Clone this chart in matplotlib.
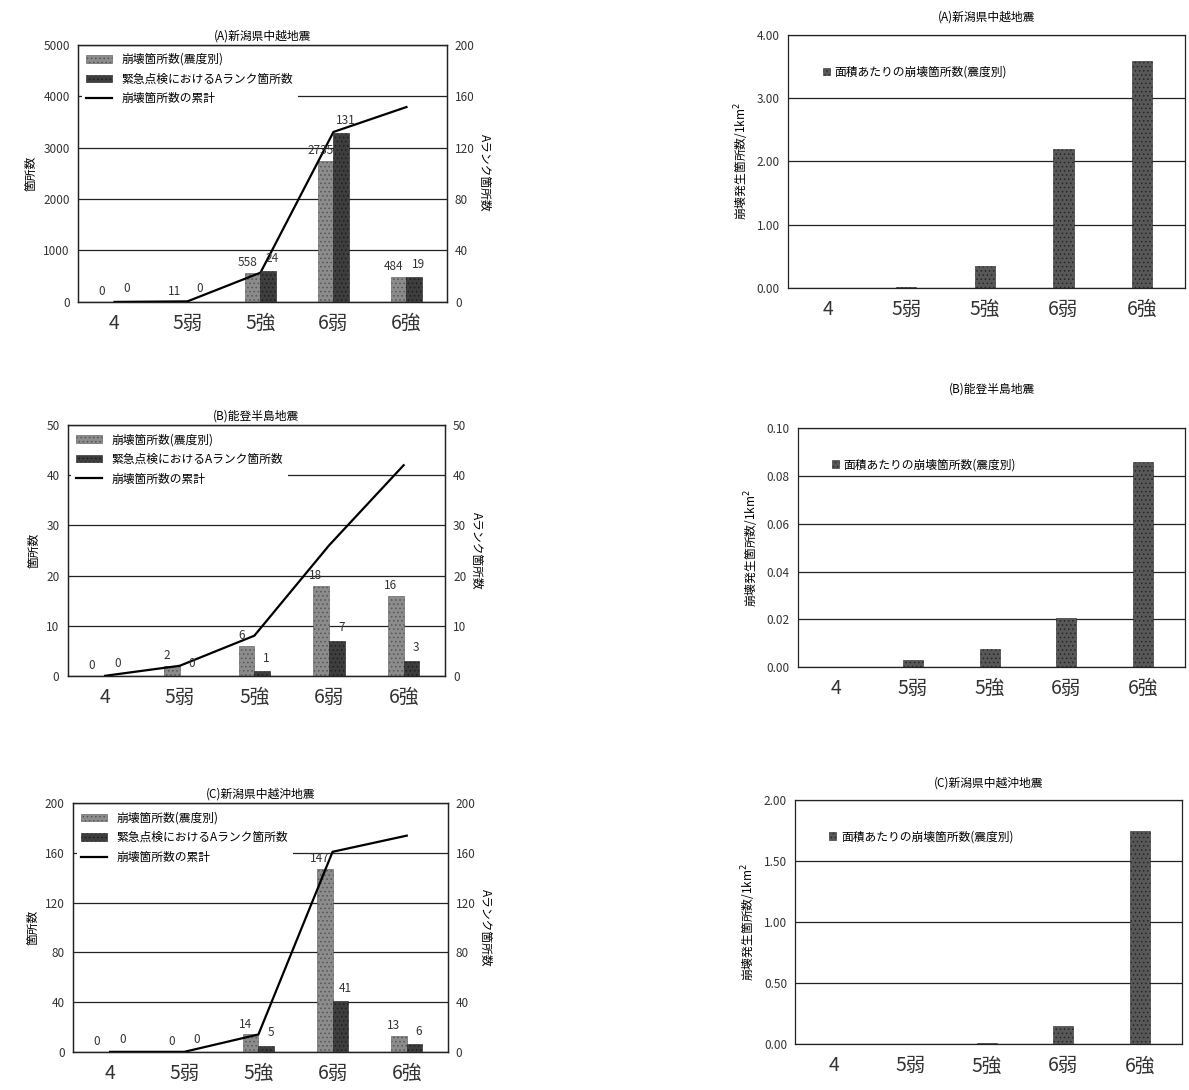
import matplotlib
matplotlib.use("Agg")
import matplotlib.pyplot as plt
import matplotlib.patches as mpatches
from matplotlib.lines import Line2D
import numpy as np

plt.rcParams['font.family'] = ['Noto Sans CJK JP', 'DejaVu Sans']
plt.rcParams['hatch.linewidth'] = 0.6

categories = ['4', '5弱', '5強', '6弱', '6強']

# (A) 新潟県中越地震
a_collapse = [0, 11, 558, 2735, 484]
a_rank = [0, 0, 24, 131, 19]
a_cum = [0, 11, 569, 3304, 3788]
a_density = [0, 0.01, 0.34, 2.19, 3.59]

# (B) 能登半島地震
b_collapse = [0, 2, 6, 18, 16]
b_rank = [0, 0, 1, 7, 3]
b_cum = [0, 2, 8, 26, 42]
b_density = [0, 0.003, 0.0077, 0.0205, 0.086]

# (C) 新潟県中越沖地震
c_collapse = [0, 0, 14, 147, 13]
c_rank = [0, 0, 5, 41, 6]
c_cum = [0, 0, 14, 161, 174]
c_density = [0, 0, 0.01, 0.15, 1.75]

titles = ['(A)新潟県中越地震', '(B)能登半島地震', '(C)新潟県中越沖地震']

LIGHT = '#8c8c8c'
DARK = '#3e3e3e'

fig = plt.figure(figsize=(11.89, 10.90), dpi=100)
fig.patch.set_facecolor('white')

left_boxes = [
    (0.0656, 0.723, 0.310, 0.236),
    (0.057, 0.380, 0.317, 0.230),
    (0.0614, 0.035, 0.315, 0.228),
]
right_boxes = [
    (0.663, 0.736, 0.334, 0.232),
    (0.671, 0.388, 0.326, 0.219),
    (0.669, 0.042, 0.325, 0.224),
]
right_title_pads = [10, 26, 10]
left_lims = [(5000, 1000), (50, 10), (200, 40)]
right_lims = [(200, 40), (50, 10), (200, 40)]
dens_lims = [(4.0, 1.0), (0.10, 0.02), (2.0, 0.5)]

collapse_sets = [a_collapse, b_collapse, c_collapse]
rank_sets = [a_rank, b_rank, c_rank]
cum_sets = [a_cum, b_cum, c_cum]
dens_sets = [a_density, b_density, c_density]

x = np.arange(len(categories))
w = 0.21


def style_box(ax):
    for s in ax.spines.values():
        s.set_linewidth(0.9)
        s.set_color('#222222')
    ax.tick_params(axis='both', length=0, colors='#333333')


for i in range(3):
    # ---- left charts: counts + A-rank + cumulative
    ax = fig.add_axes(left_boxes[i])
    ax2 = ax.twinx()
    ymax, ystep = left_lims[i]
    rmax, rstep = right_lims[i]
    ax.set_ylim(0, ymax)
    ax2.set_ylim(0, rmax)
    ax.set_xlim(-0.5, 4.55)
    ax.set_yticks(np.arange(0, ymax + ystep / 2, ystep))
    ax2.set_yticks(np.arange(0, rmax + rstep / 2, rstep))
    ax.yaxis.grid(True, color='#222222', linewidth=0.9)
    ax.set_axisbelow(True)

    ax.bar(x - w / 2, collapse_sets[i], width=w, color=LIGHT, edgecolor='#555555',
           hatch='....', linewidth=0.4, zorder=2)
    ax2.bar(x + w / 2, rank_sets[i], width=w, color=DARK, edgecolor='#1e1e1e',
            hatch='....', linewidth=0.4, zorder=2)
    ax.plot(x, cum_sets[i], color='black', linewidth=1.6, zorder=4)

    for xi, v in zip(x, collapse_sets[i]):
        ax.text(xi - w / 2 - 0.07, v + ymax * 0.015, str(v), ha='center', va='bottom',
                fontsize=8.5, color='#333333', zorder=5)
    for xi, v in zip(x, rank_sets[i]):
        ax2.text(xi + w / 2 + 0.06, v + rmax * 0.025, str(v), ha='center', va='bottom',
                 fontsize=8.5, color='#333333', zorder=5)

    ax.set_xticks(x)
    ax.set_xticklabels(categories, fontsize=14)
    ax.tick_params(axis='x', pad=8)
    ax.tick_params(axis='y', labelsize=8.5, pad=6)
    ax2.tick_params(axis='y', labelsize=8.5, length=0, colors='#333333', pad=6)
    ax.set_ylabel('箇所数', fontsize=8.5, labelpad=4)
    ax2.set_ylabel('Aランク箇所数', fontsize=8.5, rotation=270, labelpad=12)
    ax.set_title(titles[i], fontsize=8.5, pad=4)
    style_box(ax)
    style_box(ax2)

    handles = [
        mpatches.Patch(facecolor=LIGHT, edgecolor='#555555', hatch='....', linewidth=0.4),
        mpatches.Patch(facecolor=DARK, edgecolor='#1e1e1e', hatch='....', linewidth=0.4),
        Line2D([0], [0], color='black', linewidth=1.6),
    ]
    labels = ['崩壊箇所数(震度別)', '緊急点検におけるAランク箇所数', '崩壊箇所数の累計']
    leg = ax.legend(handles, labels, loc='upper left', frameon=True, fontsize=8.5,
                    handlelength=2.2, handleheight=0.6, borderaxespad=0.3,
                    labelspacing=0.55, framealpha=1, edgecolor='none')
    leg.set_zorder(3)

    # ---- right charts: density per area
    axr = fig.add_axes(right_boxes[i])
    dmax, dstep = dens_lims[i]
    axr.set_ylim(0, dmax)
    axr.set_xlim(-0.5, 4.55)
    axr.set_yticks(np.arange(0, dmax + dstep / 2, dstep))
    axr.yaxis.set_major_formatter(plt.FormatStrFormatter('%.2f'))
    axr.yaxis.grid(True, color='#222222', linewidth=0.9)
    axr.set_axisbelow(True)
    axr.bar(x, dens_sets[i], width=0.26, color='#585858', edgecolor='#262626',
            hatch='....', linewidth=0.4, zorder=2,
            label='面積あたりの崩壊箇所数(震度別)')
    axr.set_xticks(x)
    axr.set_xticklabels(categories, fontsize=14)
    axr.tick_params(axis='x', pad=8)
    axr.tick_params(axis='y', labelsize=8.5, pad=6)
    axr.set_ylabel('崩壊発生箇所数/1km$^2$', fontsize=8.5, labelpad=4)
    axr.set_title(titles[i], fontsize=8.5, pad=right_title_pads[i])
    style_box(axr)
    axr.legend(loc='upper left', frameon=False, fontsize=8.5, handlelength=0.6,
               handleheight=0.6, handletextpad=0.4,
               bbox_to_anchor=(0.06, 0.92))

fig.savefig('out.png', dpi=100, facecolor='white')
